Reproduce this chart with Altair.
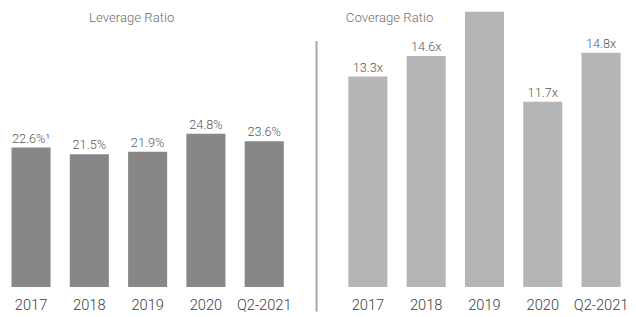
import altair as alt
import pandas as pd

periods = ["2017", "2018", "2019", "2020", "Q2-2021"]
leverage = [22.6, 21.5, 21.9, 24.8, 23.6]
leverage_labels = ["22.6%¹", "21.5%", "21.9%", "24.8%", "23.6%"]
coverage = [13.3, 14.6, 17.6, 11.7, 14.8]
coverage_labels = ["13.3x", "14.6x", "17.6x", "11.7x", "14.8x"]

lev_df = pd.DataFrame({"period": periods, "value": leverage, "label": leverage_labels})
cov_df = pd.DataFrame({"period": periods, "value": coverage, "label": coverage_labels})

FONT = "Roboto"
W, H = 286, 282


def panel(df, color, ymax, title, title_x, divider=False):
    x = alt.X(
        "period:N",
        sort=periods,
        scale=alt.Scale(paddingInner=0.33, paddingOuter=0.06),
        axis=alt.Axis(
            title=None, labelAngle=0, domain=False, ticks=False, labelPadding=11,
            labelFontSize=15, labelColor="#404040", labelFont=FONT, labelFontWeight=300,
        ),
    )
    y = alt.Y("value:Q", scale=alt.Scale(domain=[0, ymax], nice=False, zero=True), axis=None)
    base = alt.Chart(df).encode(x=x, y=y)
    bars = base.mark_bar(color=color, clip=True)
    text = base.mark_text(
        baseline="alphabetic", dy=-5, fontSize=13, font=FONT, fontWeight=300,
        color="#595959", clip=True,
    ).encode(text="label:N")
    ttl = alt.Chart(pd.DataFrame({"t": [title]})).mark_text(
        align="left", baseline="middle", fontSize=13.5, font=FONT, fontWeight=300,
        color="#6f6f6f",
    ).encode(x=alt.value(title_x), y=alt.value(7), text="t:N")
    layers = [bars, text, ttl]
    if divider:
        rule = alt.Chart(pd.DataFrame({"d": [0]})).mark_rule(
            color="#a6a6a6", strokeWidth=2
        ).encode(x=alt.value(-29), y=alt.value(30), y2=alt.value(307))
        layers.append(rule)
    return alt.layer(*layers).properties(width=W, height=H)


left = panel(lev_df, "#878787", 44.6, "Leverage Ratio", 83)
right = panel(cov_df, "#b5b5b5", 17.4, "Coverage Ratio", 1, divider=True)

chart = (
    alt.hconcat(left, right, spacing=59, bounds="flush")
    .configure_view(stroke=None)
    .properties(background="white", padding=0)
)

chart.save("out.html", embed_options={"renderer": "svg", "actions": False})
